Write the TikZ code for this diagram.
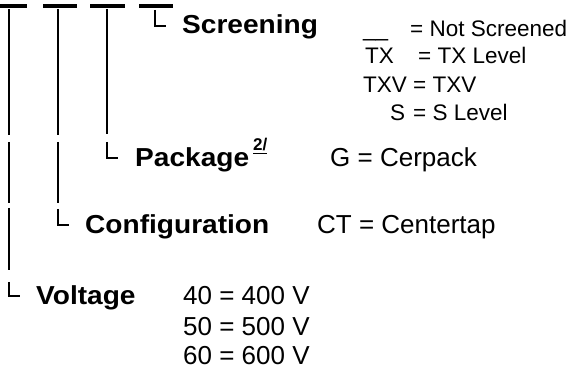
\documentclass[tikz,border=0pt]{standalone}
\usepackage{fontspec}
\setmainfont{Liberation Sans}
\usepackage{tikz}

\newcommand{\headfont}{\fontsize{26}{30}\selectfont\bfseries}
\newcommand{\valfont}{\fontsize{26}{30}\selectfont}
\newcommand{\scrfont}{\fontsize{22.5}{26}\selectfont}
\newcommand{\head}[1]{\scalebox{1.08}[1]{#1}}

\begin{document}
\begin{tikzpicture}[x=1pt, y=-1pt,
    every node/.style={inner sep=0pt, anchor=base west},
    bar/.style={line width=4pt},
    stem/.style={line width=1.8pt},
    hook/.style={line width=1.3pt},
    label/.style={font=\headfont},
    value/.style={font=\valfont},
    level/.style={font=\scrfont}]
     \useasboundingbox (0,0) rectangle (579,371);

     % dashes of the part number
     \draw[bar] (0,6) -- (27,6);
     \draw[bar] (43,6) -- (77,6);
     \draw[bar] (90,6) -- (125,6);
     \draw[bar] (139,6) -- (173,6);

     % stems
     \draw[stem] (9,9) -- (9,135);
     \draw[stem] (9,142) -- (9,203);
     \draw[stem] (9,208) -- (9,270);
     \draw[stem] (58,9) -- (58,135);
     \draw[stem] (58,142) -- (58,203);
     \draw[stem] (107,9) -- (107,134);

     % hooks
     \draw[hook] (155,10) |- (166,26);
     \draw[hook] (107,142) |- (118,158);
     \draw[hook] (58,209) |- (69,225);
     \draw[hook] (9,282) |- (20,296);

     % field names
     \node[label] (scr) at (182,34) {\head{Screening}};
     \node[label] (pkg) at (135,167) {\head{Package}};
     \node[font=\fontsize{17}{19}\selectfont\bfseries] (note) at (253,151) {\underline{2/}};
     \node[label] (cfg) at (85,234) {\head{Configuration}};
     \node[label] (vlt) at (36,305) {\head{Voltage}};

     % screening levels
     \node[level] (ns) at (363,37) {\_\_};
     \node[level] (nst) at (410,37) {= Not Screened};
     \node[level] (tx) at (365,64) {TX};
     \node[level] (txt) at (418,64) {= TX Level};
     \node[level] (txv) at (363,93) {TXV};
     \node[level] (txvt) at (413,93) {= TXV};
     \node[level] (s) at (390,121) {S};
     \node[level] (st) at (413,121) {= S Level};

     % other codes
     \node[value] (g) at (330,167) {G = Cerpack};
     \node[value] (ct) at (317,234) {CT = Centertap};
     \node[value] (v40) at (183,305) {40 = 400 V};
     \node[value] (v50) at (183,336) {50 = 500 V};
     \node[value] (v60) at (183,365) {60 = 600 V};
\end{tikzpicture}
\end{document}
